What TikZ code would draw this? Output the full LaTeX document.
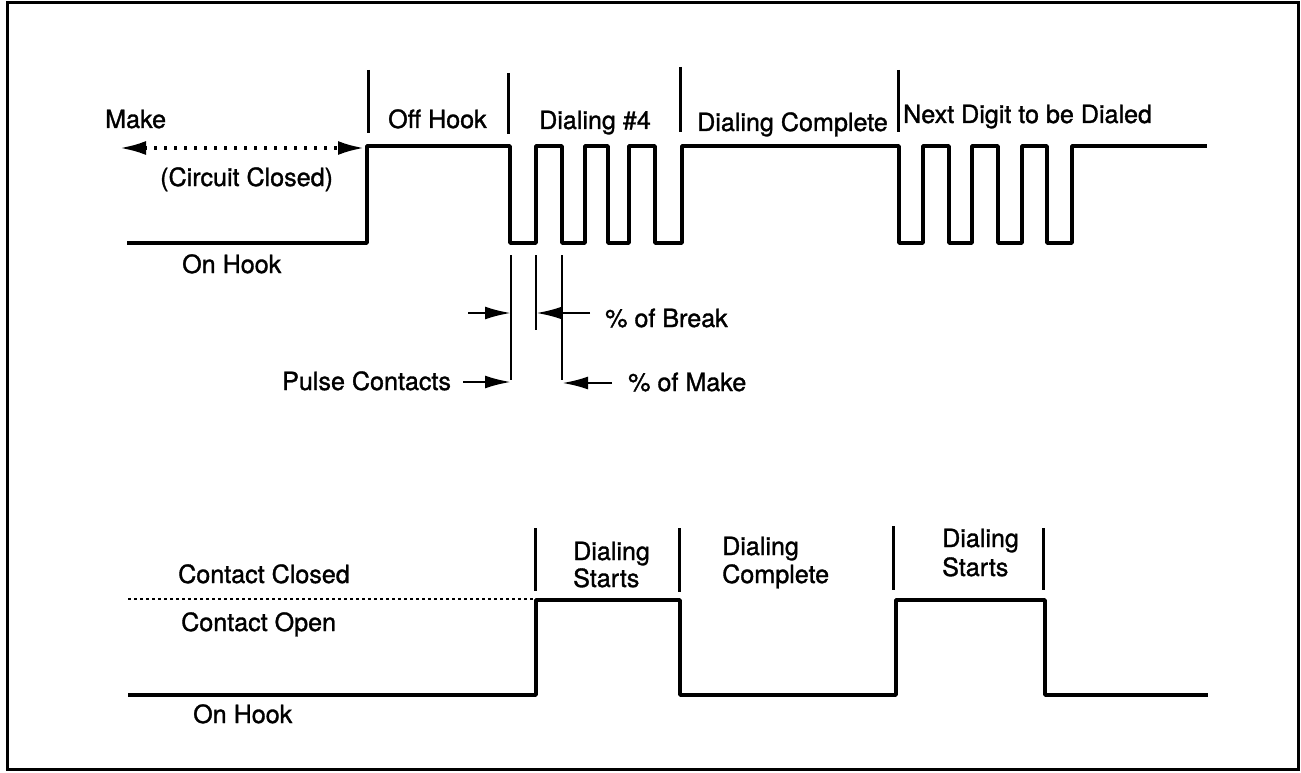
\documentclass[tikz,border=0pt]{standalone}
\usepackage{fontspec}
\setmainfont{TeX Gyre Heros}
\newfontfamily\lblfont[FakeBold=1.3]{TeX Gyre Heros}
\usetikzlibrary{arrows.meta}
\begin{document}
\begin{tikzpicture}[x=1pt,y=-1pt,
  wave/.style={line width=3.5pt, line join=round},
  tickline/.style={line width=3pt},
  dimline/.style={line width=2.6pt},
  lbl/.style={anchor=base west, inner sep=0pt, font=\lblfont\fontsize{25.1}{30}\selectfont},
  dimarrow/.style={line width=2.6pt, -{Latex[length=26pt,width=13pt]}},
  ]
\useasboundingbox (0,0) rectangle (1301,773);
\draw[line width=3pt] (7,3) rectangle (1298,769);

% ---------- top waveform ----------
\draw[wave] (127,243) -- (367,243) -- (367,146) -- (510,146) -- (510,243)
  -- (536,243) -- (536,146) -- (562,146) -- (562,243) -- (585,243) -- (585,146)
  -- (608,146) -- (608,243) -- (629,243) -- (629,146) -- (655,146) -- (655,243)
  -- (682,243) -- (682,146) -- (899,146) -- (899,243) -- (923,243) -- (923,146)
  -- (949,146) -- (949,243) -- (972,243) -- (972,146) -- (998,146) -- (998,243)
  -- (1022,243) -- (1022,146) -- (1047,146) -- (1047,243) -- (1072,243)
  -- (1072,146) -- (1207,146);

\draw[tickline] (368,70) -- (368,133);
\draw[tickline] (508,73) -- (508,134);
\draw[tickline] (680,67) -- (680,132);
\draw[tickline] (898,70) -- (898,132);

\coordinate (mkL) at (120,148);
\coordinate (mkR) at (364,148);
\draw[line width=3.2pt, dash pattern=on 3pt off 7pt, {Latex[length=26pt,width=14pt]}-{Latex[length=26pt,width=14pt]}] (mkL) -- (mkR);

\node[lbl] (make) at (105,128) {Make};
\node[lbl] (offhook) at (388,128) {Off Hook};
\node[lbl] (dial4) at (539,129) {Dialing \#4};
\node[lbl] (dialc) at (697,131) {Dialing Complete};
\node[lbl] (next) at (903,123) {Next Digit to be Dialed};
\node[lbl] (circ) at (160,186) {(Circuit Closed)};
\node[lbl] (onhook1) at (182,273) {On Hook};

% ---------- pulse timing ----------
\coordinate (v1t) at (511,255); \coordinate (v1b) at (511,380);
\coordinate (v2t) at (536,255); \coordinate (v2b) at (536,330);
\coordinate (v3t) at (562,255); \coordinate (v3b) at (562,380);
\draw[dimline] (v1t) -- (v1b);
\draw[dimline] (v2t) -- (v2b);
\draw[dimline] (v3t) -- (v3b);

\coordinate (b1s) at (468,313); \coordinate (b1e) at (511,313);
\coordinate (b2s) at (590,313); \coordinate (b2e) at (536,313);
\draw[dimarrow] (b1s) -- (b1e);
\draw[dimarrow] (b2s) -- (b2e);
\node[lbl] (brk) at (605,327) {\% of Break};

\coordinate (p1s) at (463,382); \coordinate (p1e) at (511,382);
\coordinate (p2s) at (612,383); \coordinate (p2e) at (562,383);
\draw[dimarrow] (p1s) -- (p1e);
\draw[dimarrow] (p2s) -- (p2e);
\node[lbl] (pulse) at (282,390) {Pulse Contacts};
\node[lbl] (mk2) at (628,391) {\% of Make};

% ---------- bottom waveform ----------
\draw[line width=2.8pt, dash pattern=on 2.5pt off 3.5pt] (128,599) -- (533,599);
\draw[wave] (128,695) -- (536,695) -- (536,600) -- (680,600) -- (680,695)
  -- (896,695) -- (896,600) -- (1045,600) -- (1045,695) -- (1208,695);

\draw[tickline] (535,528) -- (535,591);
\draw[tickline] (679,528) -- (679,592);
\draw[tickline] (893,526) -- (893,590);
\draw[tickline] (1043,528) -- (1043,590);

\node[lbl] (cclosed) at (178,583) {Contact Closed};
\node[lbl] (copen) at (181,631) {Contact Open};
\node[lbl] (onhook2) at (193,723) {On Hook};
\node[lbl] (ds1a) at (573,560) {Dialing};
\node[lbl] (ds1b) at (573,587) {Starts};
\node[lbl] (dc2a) at (722,555) {Dialing};
\node[lbl] (dc2b) at (722,583) {Complete};
\node[lbl] (ds2a) at (942,547) {Dialing};
\node[lbl] (ds2b) at (942,576) {Starts};
\end{tikzpicture}
\end{document}
